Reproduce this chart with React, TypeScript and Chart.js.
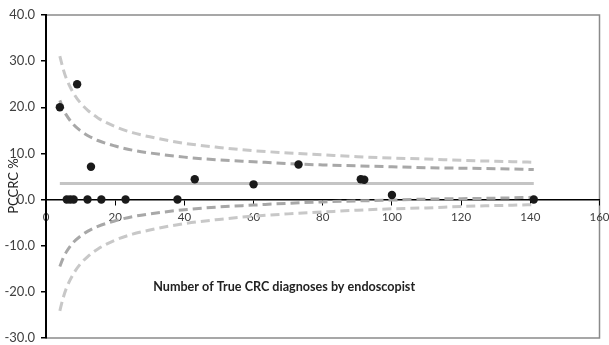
import React, { useEffect, useRef } from "react";
import { Chart, registerables } from "chart.js";

Chart.register(...registerables);

// Observed endoscopist data: true CRC diagnoses (x) and PCCRC % (y)
const diagnoses = [4, 9, 13, 6, 7, 8, 12, 16, 23, 38, 43, 60, 73, 91, 92, 100, 141];
const pccrc = [20.0, 25.0, 7.1, 0, 0, 0, 0, 0, 0, 0, 4.4, 3.3, 7.6, 4.4, 4.3, 1.0, 0];

// Mean line
const meanX = [4, 141];
const meanY = [3.5, 3.5];

// Funnel control limits
const limitX = [4, 5, 6, 8, 10, 12, 15, 20, 25, 30, 40, 50, 60, 70, 80, 90, 100, 110, 120, 130, 141];
const innerUpper = [21.5, 19.6, 18.2, 16.2, 14.9, 13.9, 12.8, 11.6, 10.7, 10.1, 9.2, 8.6, 8.2, 7.8, 7.5, 7.3, 7.1, 6.9, 6.8, 6.7, 6.5];
const innerLower = [-14.5, -12.6, -11.2, -9.2, -7.9, -6.9, -5.8, -4.6, -3.7, -3.1, -2.2, -1.6, -1.2, -0.8, -0.5, -0.3, -0.1, 0.1, 0.2, 0.3, 0.5];
const outerUpper = [31.1, 28.2, 26.0, 23.0, 20.9, 19.4, 17.7, 15.8, 14.5, 13.6, 12.2, 11.3, 10.6, 10.1, 9.7, 9.3, 9.0, 8.8, 8.5, 8.3, 8.1];
const outerLower = [-24.1, -21.2, -19.0, -16.0, -13.9, -12.4, -10.7, -8.8, -7.5, -6.6, -5.2, -4.3, -3.6, -3.1, -2.7, -2.3, -2.0, -1.8, -1.5, -1.3, -1.1];

const xTitle = "Number of True CRC diagnoses by endoscopist";
const yTitle = "PCCRC %";

const zip = (xs: number[], ys: number[]) => xs.map((x, i) => ({ x, y: ys[i] }));

export default function App() {
  const ref = useRef<HTMLCanvasElement | null>(null);

  useEffect(() => {
    if (!ref.current) return;
    const textPlugin = {
      id: "decor",
      beforeDraw(chart: any) {
        const { ctx, chartArea: a } = chart;
        ctx.save();
        ctx.strokeStyle = "#8a8a8a";
        ctx.lineWidth = 1.5;
        ctx.strokeRect(a.left, a.top, a.right - a.left, a.bottom - a.top);
        ctx.restore();
      },
      afterDraw(chart: any) {
        const { ctx } = chart;
        const xs = chart.scales.x;
        const ys = chart.scales.y;
        ctx.save();
        ctx.fillStyle = "#222";
        ctx.font = "bold 12.6px Lato";
        ctx.textAlign = "left";
        ctx.textBaseline = "alphabetic";
        ctx.fillText(xTitle, xs.getPixelForValue(31), ys.getPixelForValue(-19.8));
        ctx.translate(14, 186);
        ctx.rotate(-Math.PI / 2);
        ctx.font = "13px Lato";
        ctx.textAlign = "center";
        ctx.textBaseline = "middle";
        ctx.fillText(yTitle, 0, 0);
        ctx.restore();
      },
    };

    const lineDs = (data: any, color: string, dash: number[] | undefined) => ({
      data,
      showLine: true,
      borderColor: color,
      borderWidth: 3,
      borderDash: dash,
      pointRadius: 0,
      pointHoverRadius: 0,
      tension: 0.4,
      cubicInterpolationMode: "monotone",
      fill: false,
    });

    const chart = new Chart(ref.current, {
      type: "scatter",
      data: {
        datasets: [
          {
            data: zip(diagnoses, pccrc),
            backgroundColor: "#1a1a1a",
            borderColor: "#1a1a1a",
            pointRadius: 4.2,
            pointBorderWidth: 0,
            showLine: false,
          } as any,
          lineDs(zip(meanX, meanY), "#c4c4c4", undefined),
          lineDs(zip(limitX, innerUpper), "#a8a8a8", [9, 5]),
          lineDs(zip(limitX, innerLower), "#a8a8a8", [9, 5]),
          lineDs(zip(limitX, outerUpper), "#c8c8c8", [9, 5]),
          lineDs(zip(limitX, outerLower), "#c8c8c8", [9, 5]),
        ],
      },
      options: {
        responsive: false,
        animation: false,
        layout: { padding: { left: 0, top: 15, right: 9.5, bottom: 7 } },
        plugins: { legend: { display: false }, tooltip: { enabled: false } },
        scales: {
          x: {
            type: "linear",
            position: { y: 0 } as any,
            min: 0,
            max: 160,
            afterFit: (s: any) => {
              s.paddingLeft = 0;
              s.paddingRight = 0;
            },
            grid: { drawOnChartArea: false, drawTicks: true, tickLength: 5, color: "#000", lineWidth: 1 },
            border: { color: "#000", width: 1.5 },
            ticks: { stepSize: 20, color: "#404040", font: { family: "Lato", size: 11.5 }, padding: 6, maxRotation: 0 },
          },
          y: {
            type: "linear",
            position: "left",
            min: -30,
            max: 40,
            afterFit: (s: any) => {
              s.width = 46;
              s.paddingTop = 0;
              s.paddingBottom = 0;
            },
            grid: { drawOnChartArea: false, drawTicks: true, tickLength: 5, color: "#000", lineWidth: 1.5 },
            border: { color: "#000", width: 2 },
            ticks: {
              stepSize: 10,
              color: "#404040",
              font: { family: "Lato", size: 13 },
              padding: 6,
              callback: (v: any) => Number(v).toFixed(1),
            },
          },
        },
      },
      plugins: [textPlugin],
    } as any);
    return () => chart.destroy();
  }, []);

  return (
    <div style={{ position: "fixed", left: 0, top: 0, width: 609, height: 345, background: "#fff" }}>
      <canvas ref={ref} width={609} height={345} style={{ display: "block" }} />
    </div>
  );
}
